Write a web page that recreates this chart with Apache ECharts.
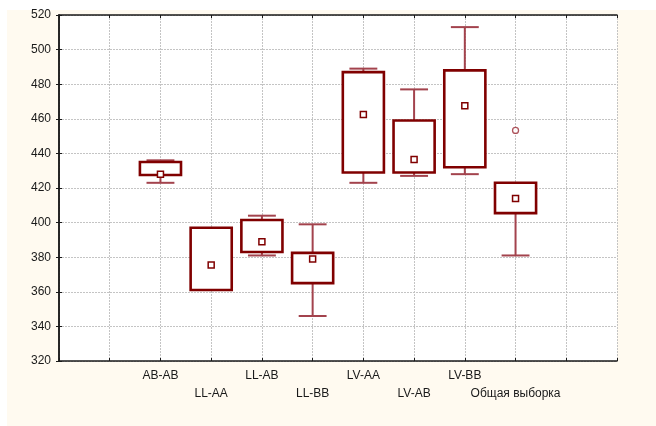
<!DOCTYPE html>
<html><head><meta charset="utf-8">
<script src="https://cdn.jsdelivr.net/npm/echarts@6/dist/echarts.min.js"></script>
<style>html,body{margin:0;padding:0;background:#fff}#c{width:656px;height:426px}</style>
</head><body><div id="c"></div>
<script>
var categories = ['AB-AB','LL-AA','LL-AB','LL-BB','LV-AA','LV-AB','LV-BB','Общая выборка'];
var mins    = [423, 361, 381, 346, 423, 427, 428, 381];
var q1s     = [427.5, 361, 383, 365, 429, 429, 432, 405.5];
var medians = [428, 375.5, 389, 379, 462.5, 436.5, 467.5, 414];
var q3s     = [435, 397, 401.5, 382.5, 487, 459, 488, 423];
var maxs    = [436, 397, 404, 399, 489, 477, 513, 423];
var outliers = [[7, 453.3]];
var yTicks = {min: 320, max: 520, interval: 20};
var xOffset = 2;

var boxData = categories.map(function(c, i){
  return [i + xOffset, mins[i], q1s[i], medians[i], q3s[i], maxs[i]];
});
var outlierData = outliers.map(function(o){ return [o[0] + xOffset, o[1]]; });

var chart = echarts.init(document.getElementById('c'), null, {renderer:'canvas'});
var txt = '#1a1a1a';
var frame = {lineStyle:{color:'#1a1a1a', width:1.5}};
var grid = {left:59, right:39, top:15, bottom:65, show:true, backgroundColor:'#ffffff', borderWidth:0};
var splitStyle = {show:true, lineStyle:{color:'#c4c4c4', type:[2,1], width:1}};

chart.setOption({
  animation:false,
  graphic:[{type:'rect', z:-100, silent:true, shape:{x:7, y:10, width:649, height:416}, style:{fill:'#fffaf0'}}],
  grid: grid,
  xAxis:[{
    type:'value', min:0, max:11, interval:1, position:'bottom',
    axisLine:Object.assign({show:true}, frame),
    axisTick:{show:true, inside:true, length:3, lineStyle:{color:'#1a1a1a', width:1}},
    splitLine:splitStyle,
    axisLabel:{color:txt, fontFamily:'Liberation Sans, Arial, sans-serif', fontSize:12, margin:6, lineHeight:18,
      showMinLabel:true, showMaxLabel:true,
      formatter:function(v){ var i = Math.round(v) - xOffset; if (i < 0 || i >= categories.length) return ''; return (i % 2 ? '\n' : '') + categories[i]; }}
  },{
    type:'value', min:0, max:11, interval:1, position:'top',
    axisLine:Object.assign({show:true}, frame),
    axisTick:{show:true, inside:true, length:3, lineStyle:{color:'#1a1a1a', width:1}},
    splitLine:{show:false}, axisLabel:{show:false}
  }],
  yAxis:[{
    type:'value', min:yTicks.min, max:yTicks.max, interval:yTicks.interval, position:'left',
    axisLine:Object.assign({show:true}, frame),
    axisTick:{show:true, inside:true, length:3, lineStyle:{color:'#1a1a1a', width:1}},
    splitLine:splitStyle,
    axisLabel:{color:txt, fontFamily:'Liberation Sans, Arial, sans-serif', fontSize:12, margin:8}
  },{
    type:'value', min:yTicks.min, max:yTicks.max, interval:yTicks.interval, position:'right',
    axisLine:Object.assign({show:true}, frame),
    axisTick:{show:true, inside:true, length:3, lineStyle:{color:'#1a1a1a', width:1}},
    splitLine:{show:false}, axisLabel:{show:false}
  }],
  series:[{
    type:'custom', xAxisIndex:0, yAxisIndex:0, data:boxData, z:5,
    renderItem:function(params, api){
      var x = api.value(0);
      var pMin = api.coord([x, api.value(1)]);
      var pQ1 = api.coord([x, api.value(2)]);
      var pMed = api.coord([x, api.value(3)]);
      var pQ3 = api.coord([x, api.value(4)]);
      var pMax = api.coord([x, api.value(5)]);
      var bw = api.size([0.81, 0])[0];
      var cw = api.size([0.55, 0])[0];
      var cx = pMed[0];
      var wStyle = {stroke:'#a3434d', lineWidth:2};
      var children = [];
      if (pMin[1] - pQ1[1] > 0.5) {
        children.push({type:'line', shape:{x1:cx, y1:pQ1[1], x2:cx, y2:pMin[1]}, style:wStyle});
        children.push({type:'line', shape:{x1:cx - cw/2, y1:pMin[1], x2:cx + cw/2, y2:pMin[1]}, style:wStyle});
      }
      if (pQ3[1] - pMax[1] > 0.5) {
        children.push({type:'line', shape:{x1:cx, y1:pQ3[1], x2:cx, y2:pMax[1]}, style:wStyle});
        children.push({type:'line', shape:{x1:cx - cw/2, y1:pMax[1], x2:cx + cw/2, y2:pMax[1]}, style:wStyle});
      }
      children.push({type:'rect', shape:{x:cx - bw/2, y:pQ3[1], width:bw, height:pQ1[1] - pQ3[1]},
        style:{fill:'#ffffff', stroke:'#800000', lineWidth:2.6}});
      children.push({type:'rect', shape:{x:cx - 3, y:pMed[1] - 3, width:6, height:6},
        style:{fill:'#ffffff', stroke:'#800000', lineWidth:1.5}});
      return {type:'group', children:children};
    }
  },{
    type:'scatter', xAxisIndex:0, yAxisIndex:0, data:outlierData, symbol:'circle', symbolSize:6, z:6,
    itemStyle:{color:'#ffffff', borderColor:'#9a2a35', borderWidth:1.3}
  }]
});
</script></body></html>
